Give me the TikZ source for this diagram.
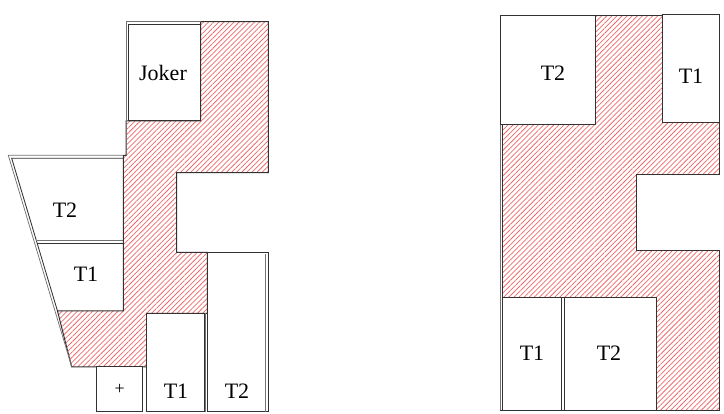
\documentclass[tikz,border=0pt]{standalone}
\usepackage{fontspec}
\setmainfont{Liberation Serif}
\usetikzlibrary{patterns.meta}
\definecolor{edge}{RGB}{50,50,50}
\definecolor{edgelight}{RGB}{115,115,115}
\definecolor{hatch}{RGB}{238,105,105}
\tikzset{
  box/.style={draw=edge, line width=1pt, fill=white},
  fine/.style={draw=edgelight, line width=0.75pt},
  hatched/.style={pattern={Lines[angle=45,distance=3.6pt,line width=0.75pt]}, pattern color=hatch, draw=edge, line width=1pt},
  lbl/.style={font=\fontsize{22}{22}\selectfont, inner sep=0pt, text=black}
}
\begin{document}
\begin{tikzpicture}[x=1pt,y=-1pt]
\useasboundingbox (0,0) rectangle (724,414);

% ---------------- left figure ----------------
\path[hatched] (200.7,21.7) -- (268.3,21.7) -- (268.3,172.7) -- (176.7,172.7) -- (176.7,252.3)
  -- (207.3,252.3) -- (207.3,313.3) -- (146.7,313.3) -- (146.7,367) -- (71.7,367)
  -- (57.5,311) -- (123.3,311) -- (123.3,155.3) -- (126,155.3) -- (126,121) -- (200.7,121) -- cycle;

% Joker frame (double line) and box
\draw[fine] (126,155.3) -- (126,21.7) -- (200.7,21.7);
\draw[box] (128.5,24.5) rectangle (200.7,121);

% trapezoid frame (double line)
\draw[fine] (123.3,155.3) -- (8.3,155.3) -- (71.7,366.7);
\draw[edge, line width=0.85pt] (123.3,158.3) -- (11.7,158.3) -- (57.5,311);
% divider between T2 and T1 (double line)
\draw[fine] (36.4,240.5) -- (123.3,240.5);
\draw[edge, line width=0.85pt] (37.1,243) -- (123.3,243);

% tall T2 box (double frame)
\draw[box] (207.3,252.3) rectangle (268.3,412);
\draw[fine] (265,254.5) -- (265,412);
\draw[fine] (205.3,313.3) -- (205.3,412);
% T1 box
\draw[box] (146.7,313.3) rectangle (204,412);
% + box
\draw[box] (96.7,367) rectangle (142.7,412);

\node[lbl] (joker) at (163,73) {Joker};
\node[lbl] (lt2) at (65,210) {T2};
\node[lbl] (lt1) at (86,274) {T1};
\node[lbl] (bt1) at (176,391) {T1};
\node[lbl] (bt2) at (237,391) {T2};
\node[lbl] (plus) at (119.7,389) {\fontsize{18}{18}\selectfont +};

% ---------------- right figure ----------------
\path[hatched] (595.7,16) -- (662.7,16) -- (662.7,122.7) -- (719.3,122.7) -- (719.3,174.3)
  -- (636.7,174.3) -- (636.7,250.7) -- (719.3,250.7) -- (719.3,410.7) -- (656,410.7)
  -- (656,297.3) -- (502,297.3) -- (502,124.5) -- (595.7,124.5) -- cycle;
\draw[fine] (500,16) -- (500,410.7);
\draw[box] (500,16) rectangle (595.7,124.5);
\draw[box] (662.7,14.7) rectangle (719.3,122.7);
\draw[box] (502.7,297.3) rectangle (561.7,410.7);
\draw[box] (564.3,297.3) rectangle (656,410.7);
\draw[edge, line width=1pt] (500,410.7) -- (719.3,410.7);

\node[lbl] (rt2) at (553,73) {T2};
\node[lbl] (rt1) at (691,76) {T1};
\node[lbl] (rbt1) at (532,353) {T1};
\node[lbl] (rbt2) at (609,353) {T2};
\end{tikzpicture}
\end{document}
